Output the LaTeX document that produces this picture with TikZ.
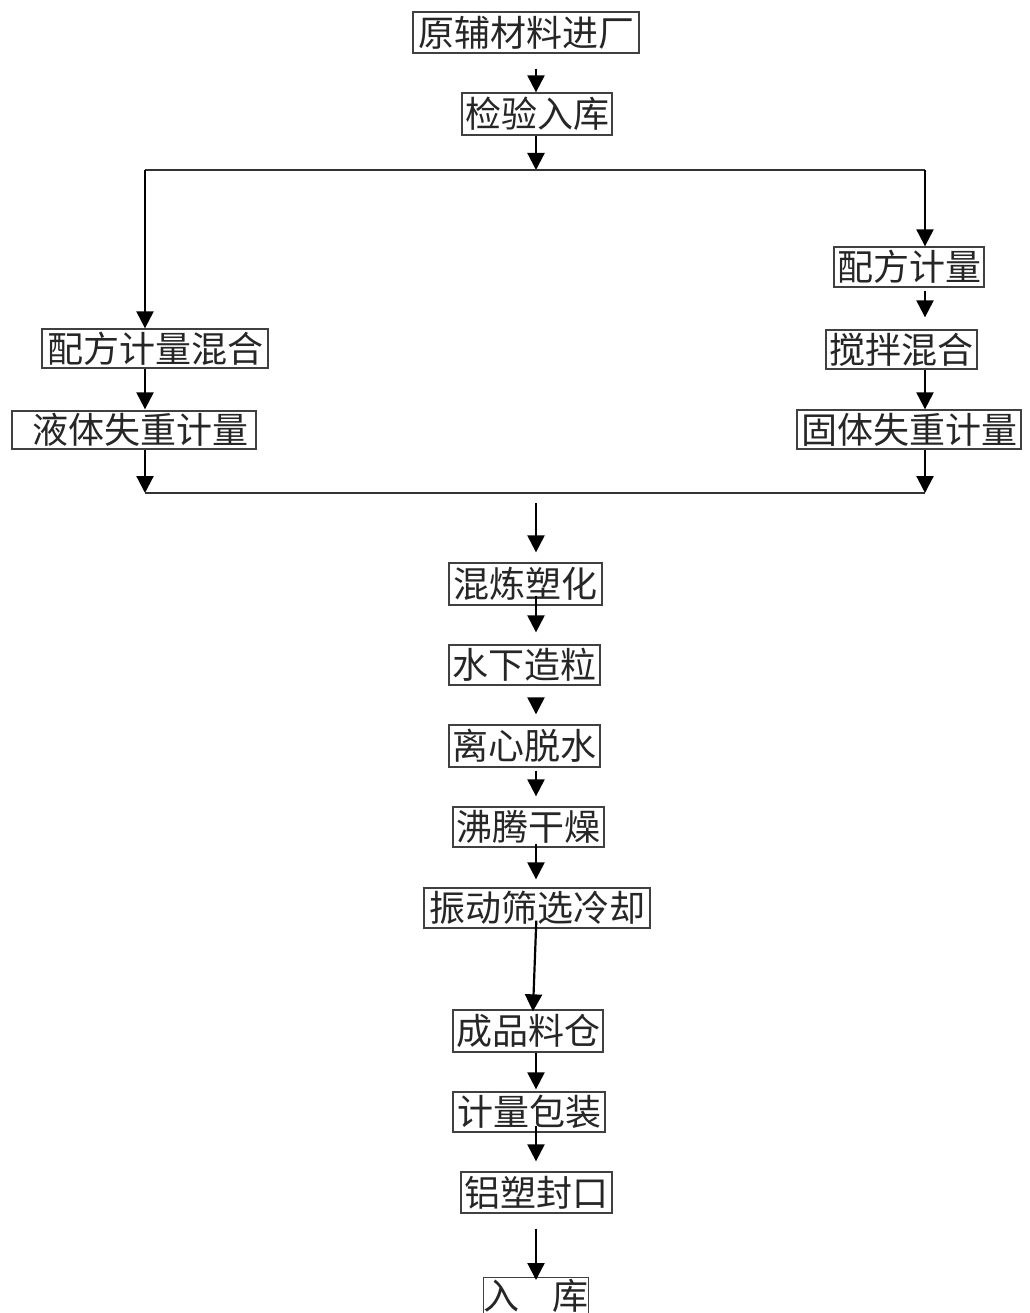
\documentclass[tikz,border=0pt]{standalone}
\usepackage{fontspec}
\setmainfont{Noto Sans CJK SC}
\usetikzlibrary{arrows.meta}
\begin{document}
\begin{tikzpicture}[x=1pt,y=-1pt,
  box/.style={draw=black!75,line width=1.3pt,inner sep=0pt,font=\fontsize{36}{40}\selectfont,text=black!85},
  arr/.style={line width=2.2pt,-{Triangle[width=17pt,length=17pt]}},
  ln/.style={line width=2.4pt,black!80}]
\useasboundingbox (0,0) rectangle (1029,1313);
\fill[white] (0,0) rectangle (1029,1313);
\node[box,minimum width=226pt,minimum height=41pt] (A) at (526,32.5) {原辅材料进厂};
\node[box,minimum width=150pt,minimum height=42pt] (B) at (537,114) {检验入库};
\node[box,minimum width=226pt,minimum height=39pt] (C) at (155,348.5) {配方计量混合};
\node[box,minimum width=244pt,minimum height=38pt] (D) at (134,430) {\hspace{12pt}液体失重计量};
\node[box,minimum width=150pt,minimum height=40pt] (E) at (909,267) {配方计量};
\node[box,minimum width=151pt,minimum height=39pt] (F) at (901.5,349.5) {搅拌混合};
\node[box,minimum width=224pt,minimum height=39pt] (G) at (909,429.5) {固体失重计量};
\node[box,minimum width=153pt,minimum height=42pt] (H) at (525.5,584) {混炼塑化};
\node[box,minimum width=151pt,minimum height=40pt] (I) at (524.5,665) {水下造粒};
\node[box,minimum width=151pt,minimum height=42pt] (J) at (524.5,746) {离心脱水};
\node[box,minimum width=151pt,minimum height=40pt] (K) at (528.5,827) {沸腾干燥};
\node[box,minimum width=226pt,minimum height=40pt] (L) at (537,908) {振动筛选冷却};
\node[box,minimum width=150pt,minimum height=42pt] (M) at (528,1031) {成品料仓};
\node[box,minimum width=152pt,minimum height=40pt] (N) at (529,1112) {计量包装};
\node[box,minimum width=151pt,minimum height=41pt] (O) at (536.5,1192.5) {铝塑封口};
\node[box,minimum width=98pt,minimum height=37pt,anchor=north] (P) at (536,1277) {入\hspace{0.9em}库};
\coordinate (sp) at (536,0);
\coordinate (jl) at (145,170);
\coordinate (jc) at (536,170);
\coordinate (jr) at (925,170);
\coordinate (ml) at (145,493);
\coordinate (mc) at (536,493);
\coordinate (mr) at (925,493);
\draw[arr,shorten <=15pt] (A.south -| sp) -- (B.north -| sp);
\draw[arr] (B.south -| sp) -- (jc);
\draw[ln] (jl) -- (jr);
\draw[arr] (jl) -- (C.north -| jl);
\draw[arr,shorten >=1pt] (C.south -| jl) -- (D.north -| jl);
\draw[arr] (D.south -| ml) -- (ml);
\draw[ln] (ml) -- (mr);
\draw[arr] (jr) -- (E.north -| jr);
\draw[arr,shorten <=3pt,shorten >=12pt] (E.south -| jr) -- (F.north -| jr);
\draw[arr] (F.south -| jr) -- (G.north -| jr);
\draw[arr] (G.south -| mr) -- (mr);
\draw[arr,shorten <=10pt,shorten >=10pt] (mc) -- (H.north -| sp);
\draw[arr,shorten <=-10pt,shorten >=12pt] (H.south -| sp) -- (I.north -| sp);
\draw[arr,shorten <=13pt,shorten >=10pt] (I.south -| sp) -- (J.north -| sp);
\draw[arr,shorten <=3pt,shorten >=10pt] (J.south -| sp) -- (K.north -| sp);
\draw[arr,shorten <=-4pt,shorten >=8pt] (K.south -| sp) -- (L.north -| sp);
\draw[arr,shorten <=-8pt,shorten >=-2pt] (L.south -| sp) -- ([xshift=-3pt]M.north -| sp);
\draw[arr,shorten >=2pt] (M.south -| sp) -- (N.north -| sp);
\draw[arr,shorten <=-7pt,shorten >=10pt] (N.south -| sp) -- (O.north -| sp);
\draw[arr,shorten <=15pt,shorten >=-3pt] (O.south -| sp) -- (P.north -| sp);
\end{tikzpicture}
\end{document}
